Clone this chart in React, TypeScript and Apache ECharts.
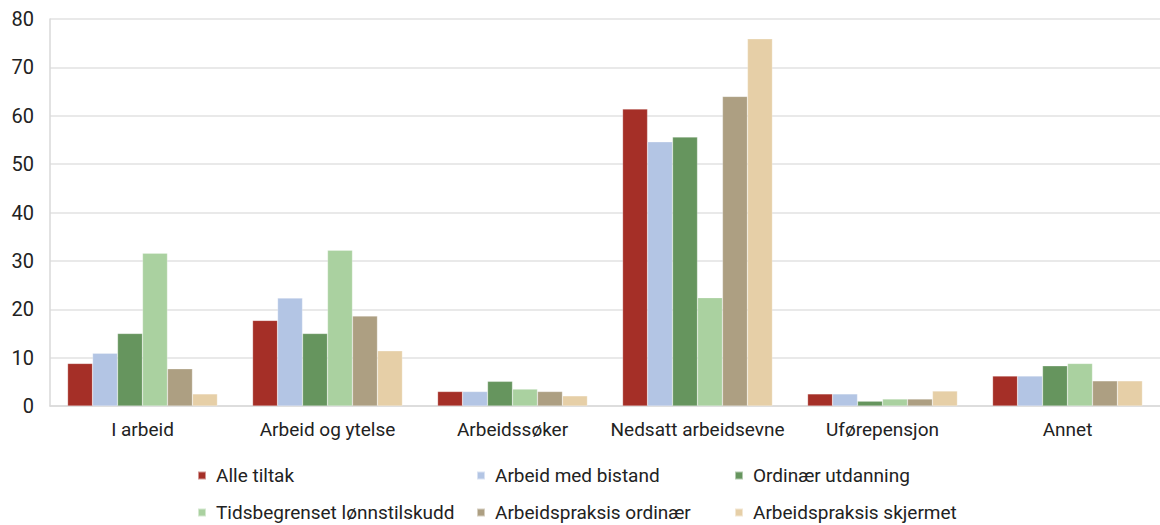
import React, { useEffect, useRef } from "react";
import * as echarts from "echarts";

const categories = ["I arbeid", "Arbeid og ytelse", "Arbeidssøker", "Nedsatt arbeidsevne", "Uførepensjon", "Annet"];
const seriesNames = [
  "Alle tiltak",
  "Arbeid med bistand",
  "Ordinær utdanning",
  "Tidsbegrenset lønnstilskudd",
  "Arbeidspraksis ordinær",
  "Arbeidspraksis skjermet",
];
const alleTiltak = [8.8, 17.7, 3.0, 61.4, 2.5, 6.2];
const arbeidMedBistand = [10.9, 22.3, 3.0, 54.6, 2.5, 6.2];
const ordinaerUtdanning = [15.0, 15.0, 5.1, 55.6, 1.0, 8.3];
const tidsbegrenset = [31.6, 32.2, 3.5, 22.4, 1.45, 8.8];
const praksisOrdinaer = [7.7, 18.6, 3.0, 64.0, 1.45, 5.2];
const praksisSkjermet = [2.5, 11.4, 2.1, 75.9, 3.1, 5.2];
const yTicks = [0, 10, 20, 30, 40, 50, 60, 70, 80];

const seriesValues = [alleTiltak, arbeidMedBistand, ordinaerUtdanning, tidsbegrenset, praksisOrdinaer, praksisSkjermet];
const colors = ["#a52f27", "#b3c5e4", "#66955e", "#aad1a0", "#ad9f82", "#e6cfa7"];

const FONT = "Roboto, 'Open Sans', sans-serif";

export default function App() {
  const ref = useRef<HTMLDivElement>(null);
  useEffect(() => {
    if (!ref.current) return;
    const chart = echarts.init(ref.current, undefined, { renderer: "svg" });
    const legendPos = [
      [197, 477],
      [476, 477],
      [734, 477],
      [197, 514],
      [476, 514],
      [734, 514],
    ];
    chart.setOption({
      animation: false,
      backgroundColor: "#ffffff",
      textStyle: { fontFamily: FONT },
      grid: { left: 50, top: 19, width: 1120, height: 387, containLabel: false },
      legend: seriesNames.map((n, i) => ({
        data: [n],
        left: legendPos[i][0],
        top: legendPos[i][1] - 11,
        itemWidth: 8,
        itemHeight: 8,
        icon: "rect",
        itemGap: 0,
        padding: 0,
        textStyle: { fontFamily: FONT, fontSize: 19, color: "#222", padding: [0, 0, 0, 5] },
      })),
      xAxis: {
        type: "category",
        data: categories,
        axisLine: { show: true, lineStyle: { color: "#d9d9d9", width: 1.5 } },
        axisTick: { show: false },
        axisLabel: { fontFamily: FONT, fontSize: 19, color: "#222", margin: 14, interval: 0 },
      },
      yAxis: {
        type: "value",
        min: yTicks[0],
        max: yTicks[yTicks.length - 1],
        interval: 10,
        axisLine: { show: true, lineStyle: { color: "#d9d9d9", width: 1.5 } },
        axisTick: { show: false },
        splitLine: { lineStyle: { color: "#e2e2e2", width: 1.5 } },
        axisLabel: { fontFamily: FONT, fontSize: 20, color: "#222", margin: 16 },
      },
      series: seriesNames.map((n, i) => ({
        name: n,
        type: "bar",
        data: seriesValues[i],
        barGap: "0%",
        barCategoryGap: "19%",
        itemStyle: { color: colors[i], borderColor: "rgba(255,255,255,0.5)", borderWidth: 0.5 },
      })),
    });
    return () => chart.dispose();
  }, []);
  return (
    <div
      ref={ref}
      style={{ position: "absolute", left: 0, top: 0, width: 1160, height: 525, overflow: "hidden" }}
    />
  );
}
